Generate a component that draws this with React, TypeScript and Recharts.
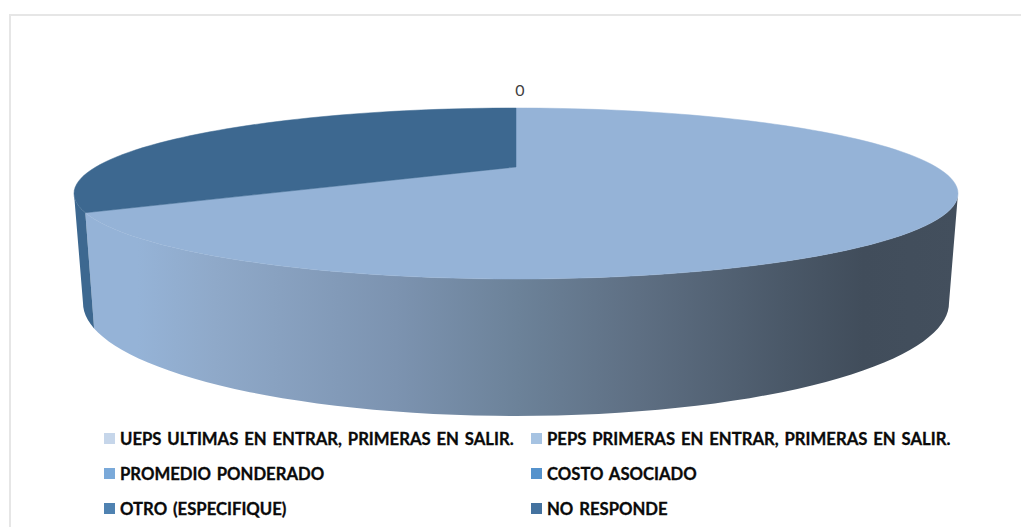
import { Legend, Pie, PieChart } from "recharts";

const categories = [
  "UEPS ULTIMAS EN ENTRAR, PRIMERAS EN SALIR.",
  "PEPS PRIMERAS EN ENTRAR, PRIMERAS EN SALIR.",
  "PROMEDIO PONDERADO",
  "COSTO ASOCIADO",
  "OTRO (ESPECIFIQUE)",
  "NO RESPONDE",
];
const values = [0, 2, 0, 0, 0, 1];
const sliceColors = ["#c6d6ea", "#95b3d7", "#7aa9d9", "#5592cc", "#4f82b1", "#3d6890"];
const legendColors = ["#c6d6ea", "#a6c3e2", "#7aa9d9", "#5592cc", "#4f82b1", "#44729f"];

const data = categories.map((name, i) => ({ name, value: values[i], fill: sliceColors[i] }));

// the pie is tilted in perspective: the centre sits above the middle of the ellipse
const TILT = 0.31;
const TOP_RY = 85.5;
const BOTTOM_RX = 433;
const BOTTOM_RY = 113;
const BOTTOM_DROP = 109.5;
// angles where the rim is at its widest, only the part between them faces the viewer
const WALL_FROM = -18;
const WALL_TO = -162;

function project(deg: number, cx: number, cy: number, rx: number, ry: number) {
  const a = (deg * Math.PI) / 180;
  const x = Math.cos(a);
  const y = Math.sin(a);
  const d = 1 + TILT * y;
  return {
    x: cx + (rx * x * Math.sqrt(1 - TILT * TILT)) / d,
    y: cy - (ry * (y + TILT)) / d,
  };
}

function arc(start: number, end: number, cx: number, cy: number, rx: number, ry: number) {
  const steps = Math.max(2, Math.ceil(Math.abs(end - start) / 2));
  const points = [];
  for (let i = 0; i <= steps; i++) {
    points.push(project(start + ((end - start) * i) / steps, cx, cy, rx, ry));
  }
  return points;
}

function toPath(points: { x: number; y: number }[]) {
  return points.map((p, i) => `${i === 0 ? "M" : "L"}${p.x.toFixed(2)},${p.y.toFixed(2)}`).join(" ") + " Z";
}

function TopSlice(props: any) {
  const { cx, cy, outerRadius, startAngle, endAngle, fill } = props;
  if (startAngle === endAngle) return <g />;
  const hub = { x: cx, y: cy - TOP_RY * TILT };
  const d = toPath([hub, ...arc(startAngle, endAngle, cx, cy, outerRadius, TOP_RY)]);
  return <path d={d} fill={fill} stroke={fill} strokeWidth={0.5} />;
}

function WallSlice(props: any) {
  const { cx, cy, outerRadius, startAngle, endAngle, fill, percent } = props;
  const from = Math.min(startAngle, WALL_FROM);
  const to = Math.max(endAngle, WALL_TO);
  if (from <= to) return <g />;
  const top = arc(from, to, cx, cy, outerRadius, TOP_RY);
  const bottom = arc(to, from, cx, cy + BOTTOM_DROP, BOTTOM_RX, BOTTOM_RY);
  return <path d={toPath([...top, ...bottom])} fill={percent > 0.5 ? "url(#wallFill)" : fill} />;
}

function ZeroLabel(props: any) {
  const { cx, cy, outerRadius, midAngle, value, index } = props;
  if (index !== 0) return null;
  const p = project(midAngle, cx, cy, outerRadius, TOP_RY);
  return (
    <text
      x={p.x + 4}
      y={p.y - 12}
      textAnchor="middle"
      fontFamily="Lato, sans-serif"
      fontSize={16}
      fill="#404040"
    >
      {value}
    </text>
  );
}

function LegendGrid() {
  return (
    <div
      style={{
        display: "grid",
        gridTemplateColumns: "427px 427px",
        gridAutoRows: "35px",
        paddingLeft: 104,
        fontFamily: "Lato, sans-serif",
        fontWeight: 700,
        fontSize: 16.7,
        wordSpacing: 1.8,
        color: "#0a0a0a",
        alignItems: "center",
        WebkitTextStroke: "0.3px #0a0a0a",
      }}
    >
      {categories.map((name, i) => (
        <span key={name} style={{ display: "flex", alignItems: "center", whiteSpace: "nowrap" }}>
          <span style={{ width: 11, height: 11, marginRight: 5, backgroundColor: legendColors[i] }} />
          {name}
        </span>
      ))}
    </div>
  );
}

export default function App() {
  return (
    <div style={{ position: "absolute", left: 0, top: 0, width: 1021, height: 527, overflow: "hidden", background: "#fff" }}>
      <div
        style={{
          position: "absolute",
          left: 9,
          top: 14,
          width: 1100,
          height: 600,
          border: "2px solid #e6e6e6",
        }}
      />
      <div style={{ position: "absolute", left: 0, top: 0 }}>
        <PieChart width={1021} height={527} margin={{ top: 0, right: 0, bottom: 0, left: 0 }}>
          <defs>
            <linearGradient id="wallFill" gradientUnits="userSpaceOnUse" x1="94" y1="0" x2="958" y2="0">
              <stop offset="0%" stopColor="#95b3d7" />
              <stop offset="5%" stopColor="#95b3d7" />
              <stop offset="14%" stopColor="#8fa9c9" />
              <stop offset="35%" stopColor="#7c93b0" />
              <stop offset="49%" stopColor="#6c8299" />
              <stop offset="63%" stopColor="#5e6f83" />
              <stop offset="80%" stopColor="#4a5868" />
              <stop offset="89%" stopColor="#414d5b" />
              <stop offset="100%" stopColor="#434f5d" />
            </linearGradient>
          </defs>
          <Pie
            data={data}
            dataKey="value"
            nameKey="name"
            cx={516}
            cy={193.5}
            outerRadius={442}
            startAngle={90}
            endAngle={-270}
            stroke="none"
            legendType="none"
            shape={WallSlice}
            isAnimationActive={false}
          />
          <Pie
            data={data}
            dataKey="value"
            nameKey="name"
            cx={516}
            cy={193.5}
            outerRadius={442}
            startAngle={90}
            endAngle={-270}
            stroke="none"
            shape={TopSlice}
            label={ZeroLabel}
            labelLine={false}
            isAnimationActive={false}
          />
          <Legend content={LegendGrid} wrapperStyle={{ left: 0, top: 421, width: 1021 }} />
        </PieChart>
      </div>
    </div>
  );
}
